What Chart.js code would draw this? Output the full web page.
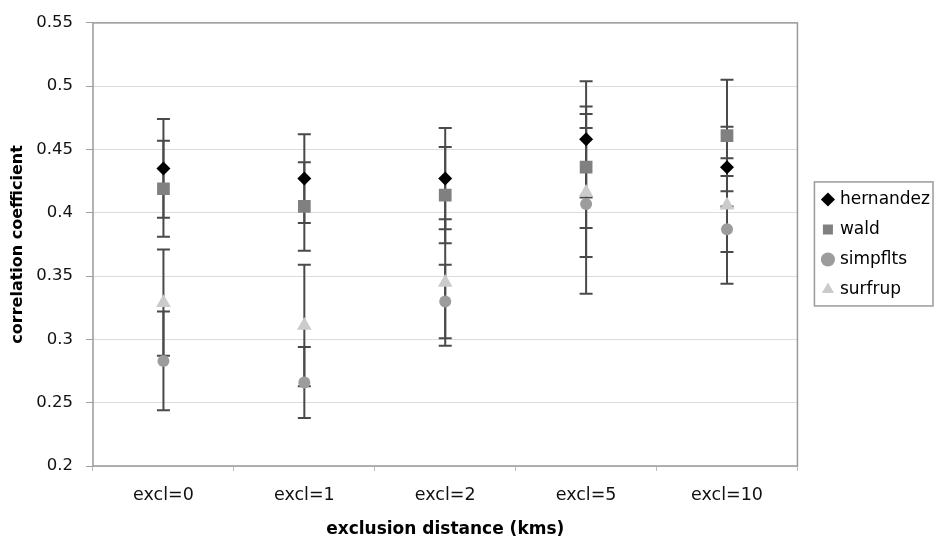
<!DOCTYPE html>
<html>
<head>
<meta charset="utf-8">
<script src="https://cdn.jsdelivr.net/npm/chart.js@4/dist/chart.umd.min.js"></script>
<style>
  html, body { margin: 0; padding: 0; background: #ffffff; }
  #wrap { width: 940px; height: 541px; }
</style>
</head>
<body>
<div id="wrap"><canvas id="c" width="940" height="541"></canvas></div>
<script>
// ---- data ----
const categories = ['excl=0', 'excl=1', 'excl=2', 'excl=5', 'excl=10'];
const yTickLabels = ['0.2', '0.25', '0.3', '0.35', '0.4', '0.45', '0.5', '0.55'];

const hernandez    = [0.435, 0.427, 0.427, 0.458, 0.436];
const hernandezErr = [0.039, 0.035, 0.040, 0.046, 0.007];

const wald    = [0.419, 0.405, 0.414, 0.436, 0.461];
const waldErr = [0.038, 0.035, 0.038, 0.048, 0.044];

const simpflts    = [0.283, 0.266, 0.330, 0.407, 0.387];
const simpfltsErr = [0.039, 0.028, 0.029, 0.071, 0.018];

const surfrup    = [0.329, 0.311, 0.345, 0.416, 0.406];
const surfrupErr = [0.042, 0.048, 0.050, 0.051, 0.062];

const FONT = "'DejaVu Sans', 'Liberation Sans', sans-serif";

// error bars drawn beneath the markers, through the chart's own scales
const errorBarPlugin = {
  id: 'errorBars',
  beforeDatasetsDraw(chart) {
    const ctx = chart.ctx;
    const ys = chart.scales.y;
    const ca = chart.chartArea;
    ctx.save();
    // plot border
    ctx.strokeStyle = '#9a9a9a';
    ctx.lineWidth = 1.5;
    ctx.strokeRect(ca.left, ca.top, ca.right - ca.left, ca.bottom - ca.top);
    // error bars
    ctx.strokeStyle = '#4a4a4a';
    ctx.lineWidth = 2;
    chart.data.datasets.forEach((ds, di) => {
      const meta = chart.getDatasetMeta(di);
      ds.data.forEach((v, i) => {
        const e = ds.errors[i];
        const x = meta.data[i].x;
        const yTop = ys.getPixelForValue(v + e);
        const yBot = ys.getPixelForValue(v - e);
        const cap = 6.5;
        ctx.beginPath();
        ctx.moveTo(x, yTop); ctx.lineTo(x, yBot);
        ctx.moveTo(x - cap, yTop); ctx.lineTo(x + cap, yTop);
        ctx.moveTo(x - cap, yBot); ctx.lineTo(x + cap, yBot);
        ctx.stroke();
      });
    });
    ctx.restore();
  },
  afterDraw(chart) {
    const lg = chart.legend;
    if (!lg || !lg.legendHitBoxes || !lg.legendHitBoxes.length) return;
    const hb = lg.legendHitBoxes;
    const ctx = chart.ctx;
    const x0 = lg.left + 3;
    const x1 = lg.right - 7;
    const y0 = hb[0].top - 9;
    const y1 = hb[hb.length - 1].top + hb[hb.length - 1].height + 8;
    ctx.save();
    ctx.strokeStyle = '#9a9a9a';
    ctx.lineWidth = 1.5;
    ctx.strokeRect(x0, y0, x1 - x0, y1 - y0);
    ctx.restore();
  }
};

const mk = (label, data, errors, color, style, radius) => ({
  label, data, errors,
  showLine: false,
  pointStyle: style,
  pointRadius: radius,
  pointHoverRadius: radius,
  pointBackgroundColor: color,
  pointBorderColor: color,
  pointBorderWidth: 0,
  backgroundColor: color,
  borderColor: color,
  borderWidth: 0
});

new Chart(document.getElementById('c'), {
  type: 'line',
  data: {
    labels: categories,
    datasets: [
      mk('hernandez', hernandez, hernandezErr, '#000000', 'rectRot', 7),
      mk('wald', wald, waldErr, '#808080', 'rect', 9),
      mk('simpflts', simpflts, simpfltsErr, '#9c9c9c', 'circle', 6),
      mk('surfrup', surfrup, surfrupErr, '#cbcbcb', 'triangle', 8.5)
    ]
  },
  options: {
    responsive: false,
    animation: false,
    events: [],
    layout: { padding: { top: 17, right: 0, bottom: 0, left: 0 } },
    plugins: {
      tooltip: { enabled: false },
      title: { display: false },
      legend: {
        display: true,
        position: 'right',
        fullSize: false,
        align: 'center',
        labels: {
          usePointStyle: true,
          boxWidth: 7,
          boxHeight: 10,
          padding: 13,
          color: '#000000',
          font: { family: FONT, size: 17 }
        }
      }
    },
    scales: {
      x: {
        type: 'category',
        offset: true,
        grid: { display: true, offset: true, drawOnChartArea: false, tickLength: 5, color: '#bdbdbd' },
        border: { display: false },
        ticks: { color: '#111111', padding: 14, maxRotation: 0, autoSkip: false, font: { family: FONT, size: 17.5 } },
        title: {
          display: true,
          text: 'exclusion distance (kms)',
          color: '#000000',
          font: { family: FONT, size: 17, weight: 'bold' },
          padding: { top: 0, bottom: 1 }
        },
        afterFit(s) { s.height = 75; }
      },
      y: {
        type: 'linear',
        min: 0.2,
        max: 0.55,
        ticks: {
          stepSize: 0.05,
          color: '#111111',
          padding: 13,
          font: { family: FONT, size: 16.5 },
          callback: (v, i) => yTickLabels[i]
        },
        grid: { color: '#dcdcdc', lineWidth: 1, tickLength: 7, tickColor: '#a0a0a0' },
        border: { display: false },
        title: {
          display: true,
          text: 'correlation coefficient',
          color: '#000000',
          font: { family: FONT, size: 16, weight: 'bold' },
          padding: { top: 8, bottom: 0 }
        },
        afterFit(s) { s.width = 93; }
      },
      pad: {
        type: 'linear',
        position: 'right',
        display: true,
        grid: { display: false, drawTicks: false },
        border: { display: false },
        ticks: { display: false },
        afterFit(s) { s.width = 14; }
      }
    }
  },
  plugins: [errorBarPlugin]
});
</script>
</body>
</html>
